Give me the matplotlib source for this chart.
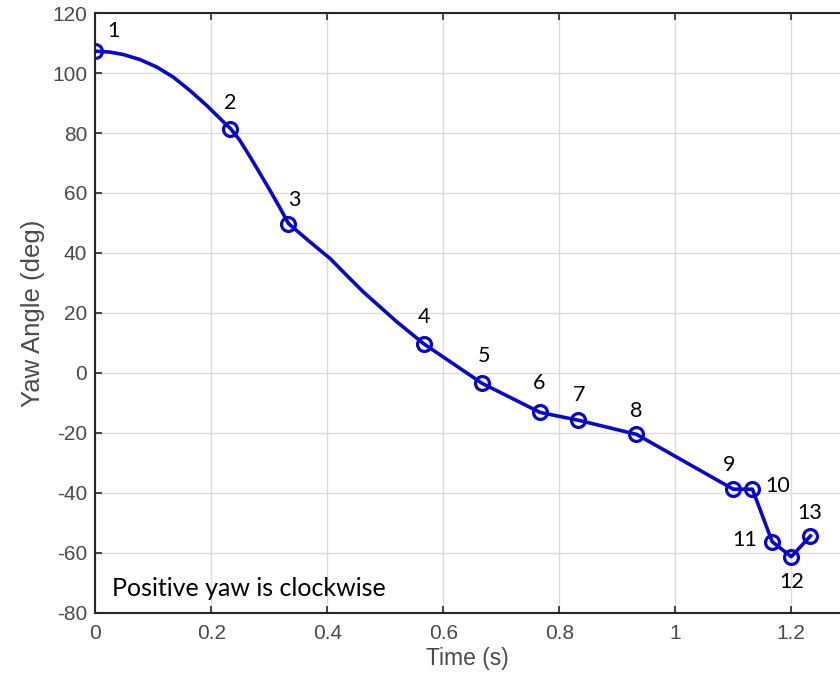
import matplotlib
matplotlib.use("Agg")
import matplotlib.pyplot as plt
import numpy as np

plt.rcParams["axes.unicode_minus"] = False

# marked frames (30 fps)
marker_t = [0.0, 0.233, 0.333, 0.567, 0.667, 0.767, 0.833, 0.933, 1.1, 1.133, 1.167, 1.2, 1.233]
marker_yaw = [107.3, 81.5, 49.8, 9.6, -3.5, -13.2, -15.8, -20.5, -38.8, -38.8, -56.3, -61.3, -54.4]
marker_labels = [str(i) for i in range(1, 14)]

# extra points read along the traced curve between markers
trace_t = [0.025, 0.048, 0.077, 0.106, 0.134, 0.163, 0.192, 0.221,
           0.249, 0.267, 0.284, 0.301, 0.319,
           0.370, 0.405, 0.433, 0.462, 0.491, 0.520]
trace_yaw = [107.0, 106.2, 104.5, 102.0, 98.7, 94.2, 89.2, 83.7,
             77.6, 72.0, 66.5, 60.9, 54.8,
             43.7, 38.1, 32.6, 27.0, 22.0, 17.0]

# label offsets in pixels (dx, dy)
label_offsets = [(18, 20), (0, 26), (6, 24), (0, 27), (2, 27), (-1, 29), (1, 25),
                 (0, 23), (-4, 24), (25, 3), (-27, 2), (0, -25), (-1, 23)]

line_t = np.array(marker_t + trace_t)
line_y = np.array(marker_yaw + trace_yaw)
order = np.argsort(line_t)

blue = "#0808cc"
fig = plt.figure(figsize=(8.4, 6.9), dpi=100)
ax = fig.add_axes([0.1135, 0.112, 0.8865, 0.869])

ax.plot(line_t[order], line_y[order], color=blue, lw=2.6, zorder=3,
        solid_joinstyle="round")
ax.plot(marker_t, marker_yaw, "o", color=blue, mfc="none", ms=10, mew=2.3, zorder=4)

for t, y, lab, (dx, dy) in zip(marker_t, marker_yaw, marker_labels, label_offsets):
    ax.annotate(lab, (t, y), xytext=(dx, dy), textcoords="offset pixels",
                ha="center", va="center", fontsize=15.5, family="Lato", color="black")

ax.text(0.029, -71.8, "Positive yaw is clockwise", fontsize=18, family="Lato",
        color="black", va="center", ha="left")

ax.set_xlim(0, 1.284)
ax.set_ylim(-80, 120)
ax.set_xticks([0, 0.2, 0.4, 0.6, 0.8, 1.0, 1.2])
ax.set_xticklabels(["0", "0.2", "0.4", "0.6", "0.8", "1", "1.2"])
ax.set_yticks(range(-80, 121, 20))

ax.grid(True, color="#dcdcdc", lw=1)
ax.set_axisbelow(True)
ax.tick_params(direction="in", length=5, width=1.2, top=True, right=False,
               labelsize=15, labelcolor="#4a4a4a", color="#262626")
ax.tick_params(axis="x", pad=8)
ax.tick_params(axis="y", pad=6)
for lab in ax.get_xticklabels() + ax.get_yticklabels():
    lab.set_family("Liberation Sans")
for side in ["left", "bottom", "top"]:
    ax.spines[side].set_color("#262626")
    ax.spines[side].set_linewidth(1.5)
ax.spines["right"].set_visible(False)

ax.set_xlabel("Time (s)", fontsize=16.5, family="Liberation Sans", color="#4a4a4a", labelpad=3)
ax.set_ylabel("Yaw Angle (deg)", fontsize=18.5, family="Liberation Sans", color="#4a4a4a", labelpad=5)

fig.savefig("out.png", dpi=100)
